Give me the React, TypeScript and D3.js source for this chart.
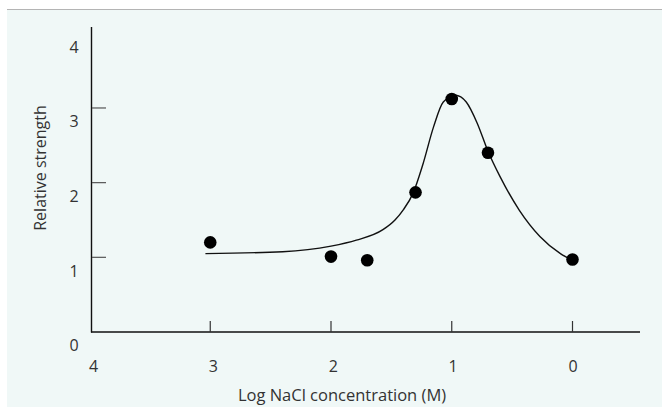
import React from "react";
import * as d3 from "d3";

const W = 662;
const H = 407;

const xTickValues = [4, 3, 2, 1, 0];
const yTickValues = [0, 1, 2, 3, 4];
const yTickMarks = [1, 2, 3];
const xTickMarks = [3, 2, 1, 0];

const pointX = [3.0, 2.0, 1.7, 1.3, 1.0, 0.7, 0.0];
const pointY = [1.2, 1.01, 0.96, 1.87, 3.12, 2.4, 0.97];

const curveX = [3.04, 2.4, 2.0, 1.79, 1.57, 1.47, 1.4, 1.32, 1.24, 1.15, 1.07, 0.97, 0.88, 0.79, 0.7, 0.6, 0.44, 0.27, 0.1, 0.0];
const curveY = [1.05, 1.075, 1.15, 1.23, 1.37, 1.5, 1.64, 1.86, 2.24, 2.75, 3.08, 3.17, 3.08, 2.8, 2.42, 2.08, 1.63, 1.28, 1.05, 0.96];

const xTitle = "Log NaCl concentration (M)";
const yTitle = "Relative strength";

export default function App() {
  const x = d3.scaleLinear().domain([4, 0]).range([89.5, 572.5]);
  const xLabel = d3.scaleLinear().domain([4, 0]).range([93.5, 573]);
  const y = d3.scaleLinear().domain([0, 4]).range([332, 33.3]);

  const line = d3
    .line<number>()
    .x((_, i) => x(curveX[i]))
    .y((_, i) => y(curveY[i]))
    .curve(d3.curveMonotoneX);

  const font = "'Open Sans', 'Noto Sans', sans-serif";

  return (
    <div style={{ position: "fixed", left: 0, top: 0, width: W, height: H, background: "#fff" }}>
      <svg width={W} height={H} style={{ display: "block" }}>
        <rect x={0} y={0} width={W} height={H} fill="#ffffff" />
        <rect x={7} y={9.5} width={W - 7} height={H - 9.5} fill="#f0f8f7" />
        <line x1={7} x2={W} y1={9.5} y2={9.5} stroke="#b4b4b4" strokeWidth={1} />

        {/* axes */}
        <line x1={91.5} x2={91.5} y1={27} y2={332.5} stroke="#111" strokeWidth={1.4} />
        <line x1={91} x2={640} y1={332} y2={332} stroke="#111" strokeWidth={1.4} />

        {yTickMarks.map((v) => (
          <line key={"yt" + v} x1={92} x2={106} y1={y(v)} y2={y(v)} stroke="#555" strokeWidth={1.2} />
        ))}
        {xTickMarks.map((v) => (
          <line key={"xt" + v} x1={x(v)} x2={x(v)} y1={332} y2={321} stroke="#333" strokeWidth={1.2} />
        ))}

        {yTickValues.map((v) => (
          <text
            key={"yl" + v}
            x={74}
            y={y(v) + 15}
            textAnchor="middle"
            dominantBaseline="middle"
            fontFamily={font}
            fontSize={16}
            fill="#333"
          >
            {v}
          </text>
        ))}
        {xTickValues.map((v) => (
          <text
            key={"xl" + v}
            x={xLabel(v)}
            y={368}
            textAnchor="middle"
            dominantBaseline="middle"
            fontFamily={font}
            fontSize={16}
            fill="#333"
          >
            {v}
          </text>
        ))}

        <text x={342} y={401} textAnchor="middle" fontFamily={font} fontSize={16.5} fill="#333">
          {xTitle}
        </text>
        <text
          transform="translate(42,168) rotate(-90)"
          textAnchor="middle"
          dominantBaseline="middle"
          fontFamily={font}
          fontSize={16}
          fill="#333"
        >
          {yTitle}
        </text>

        <path d={line(curveX) || ""} fill="none" stroke="#111" strokeWidth={1.4} />

        {pointX.map((v, i) => (
          <circle key={"p" + i} cx={x(v)} cy={y(pointY[i])} r={6.3} fill="#000" />
        ))}
      </svg>
    </div>
  );
}
